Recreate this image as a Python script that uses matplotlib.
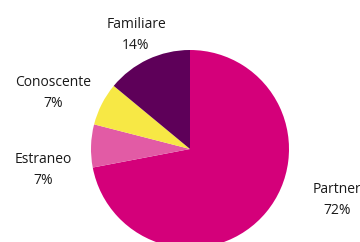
import matplotlib.pyplot as plt

categories = ['Partner', 'Estraneo', 'Conoscente', 'Familiare']
values = [72, 7, 7, 14]
colors = ['#D4007A', '#E25BA5', '#F7E845', '#5E0059']

# label positions in pixel space (x, y from top)
label_pos = {
    'Partner': (337, 200),
    'Estraneo': (43, 170),
    'Conoscente': (53, 93),
    'Familiare': (136, 35),
}

W, H = 360, 242
fig = plt.figure(figsize=(W / 100, H / 100), dpi=100)
ax = fig.add_axes([0, 0, 1, 1])

ax.pie(values, colors=colors, startangle=90, counterclock=False,
       center=(190, H - 149), radius=99, frame=True,
       wedgeprops=dict(linewidth=0))
ax.set_xlim(0, W)
ax.set_ylim(0, H)
ax.set_aspect('equal')
ax.axis('off')

for name, v in zip(categories, values):
    x, y = label_pos[name]
    ax.text(x, H - y, f'{name}\n{v}%', ha='center', va='center',
            fontsize=10, family='Open Sans', color='#1a1a1a', linespacing=1.55)

fig.savefig('out.png', dpi=100)
